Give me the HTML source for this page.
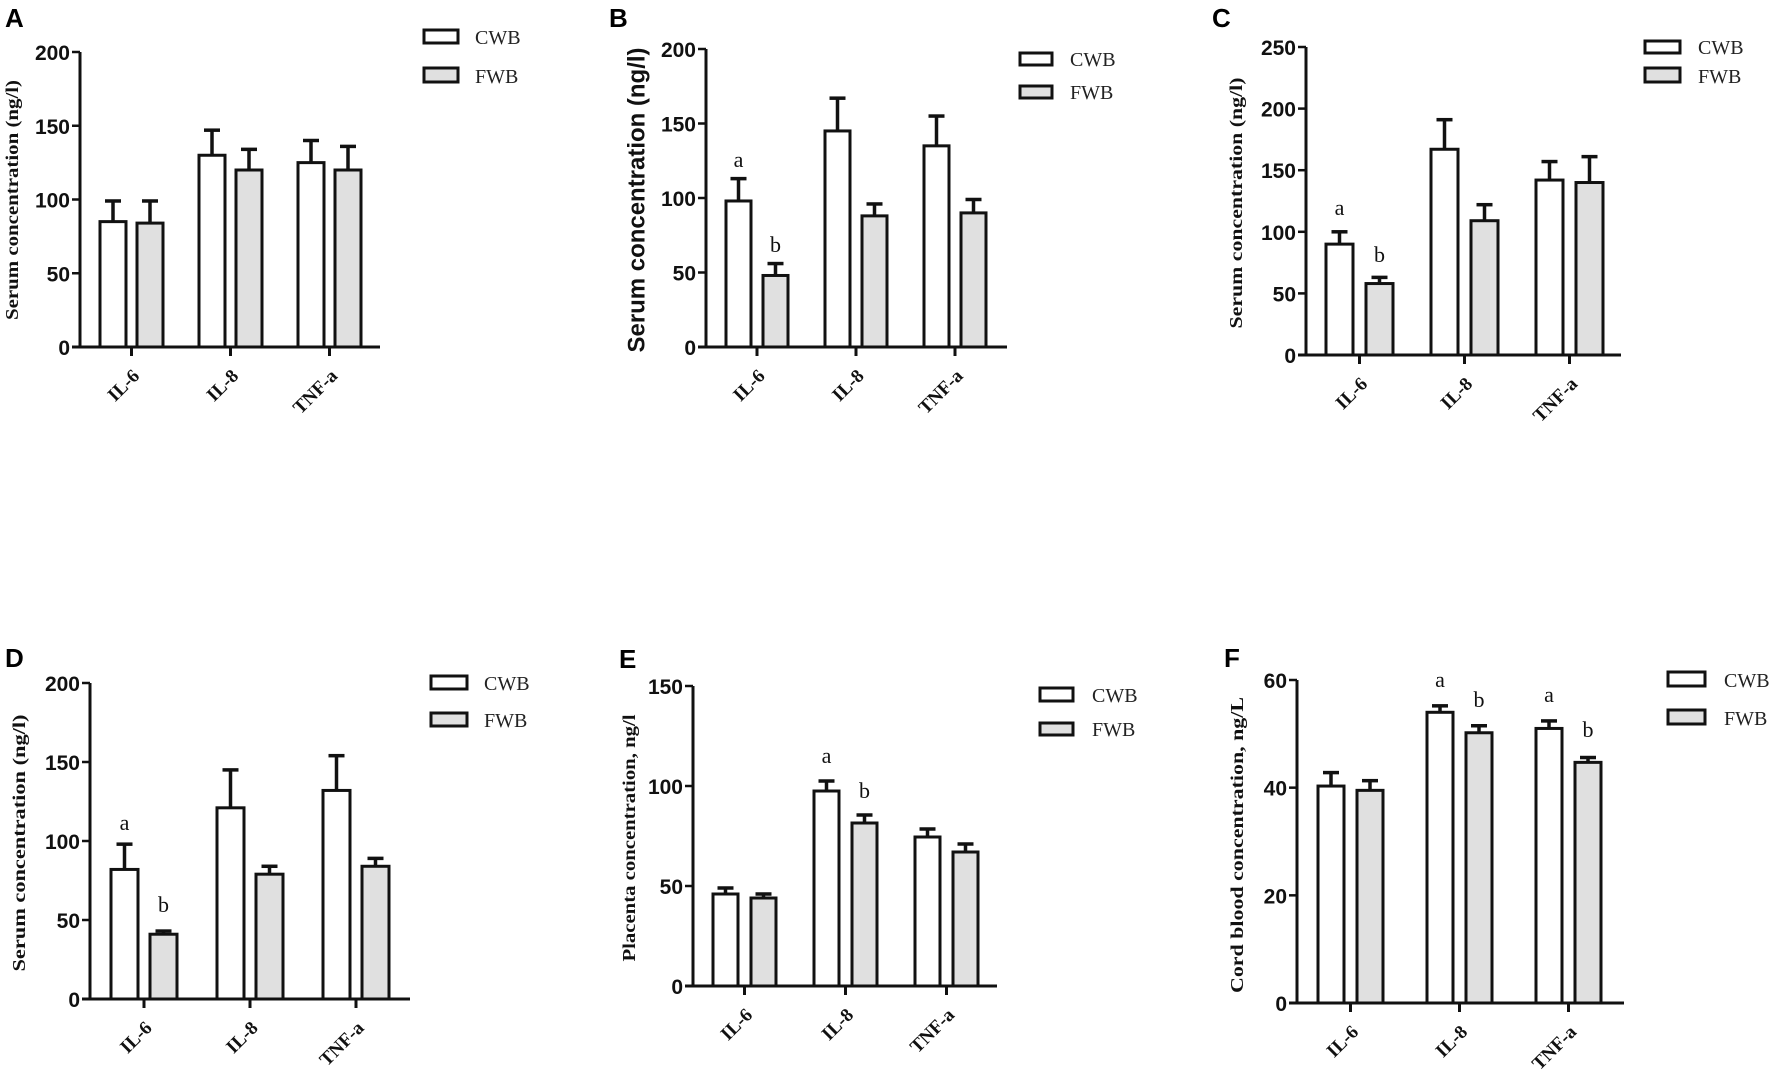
<!DOCTYPE html>
<html><head><meta charset="utf-8">
<style>
html,body{margin:0;padding:0;background:#fff;}
svg{display:block;}
.tk{font-family:"Liberation Sans",Arial,sans-serif;font-weight:bold;font-size:21px;fill:#111;}
.lg{font-family:"Liberation Serif","Times New Roman",serif;font-size:20px;fill:#222;}
.xl{font-family:"Liberation Serif","Times New Roman",serif;font-weight:bold;font-size:19px;fill:#111;}
.yl{font-family:"Liberation Serif","Times New Roman",serif;font-weight:bold;font-size:18px;fill:#111;}
.ys{font-family:"Liberation Sans",Arial,sans-serif;font-weight:bold;font-size:24px;fill:#111;}
.pl{font-family:"Liberation Sans",Arial,sans-serif;font-weight:bold;font-size:26px;fill:#000;}
.sg{font-family:"Liberation Serif","Times New Roman",serif;font-size:22px;fill:#111;}
</style></head><body>
<svg id="s" xmlns="http://www.w3.org/2000/svg" width="1772" height="1080" viewBox="0 0 1772 1080"></svg>
<script>
const panels=[
{L:'A',lx:5,ly:27,ax:80,yt:52,y0:347,max:200,step:50,xend:380,b1:100,w:26,fo:37,sp:99,
 c:[[85,14],[130,17],[125,15]],f:[[84,15],[120,14],[120,16]],
 leg:[424,458,30,43,68,82,475],yl:'Serum concentration (ng/l)',ycx:12,ycy:200,ylen:240,ycls:'yl',sig:[]},
{L:'B',lx:609,ly:27,ax:706,yt:49,y0:347,max:200,step:50,xend:1007,b1:726,w:25,fo:37,sp:99,
 c:[[98,15],[145,22],[135,20]],f:[[48,8],[88,8],[90,9]],
 leg:[1020,1052,53,65,86,98,1070],yl:'Serum concentration (ng/l)',ycx:637,ycy:200,ylen:305,ycls:'ys',
 sig:[[0,0,'a',167],[0,1,'b',252]]},
{L:'C',lx:1212,ly:27,ax:1306,yt:47,y0:355,max:250,step:50,xend:1621,b1:1326,w:27,fo:40,sp:105,
 c:[[90,10],[167,24],[142,15]],f:[[58,5],[109,13],[140,21]],
 leg:[1645,1680,41,53,68,82,1698],yl:'Serum concentration (ng/l)',ycx:1236,ycy:203,ylen:251,ycls:'yl',
 sig:[[0,0,'a',215],[0,1,'b',262]]},
{L:'D',lx:5,ly:667,ax:90,yt:683,y0:999,max:200,step:50,xend:410,b1:111,w:27,fo:39,sp:106,
 c:[[82,16],[121,24],[132,22]],f:[[41,2],[79,5],[84,5]],
 leg:[431,467,676,689,713,726,484],yl:'Serum concentration (ng/l)',ycx:19,ycy:843,ylen:257,ycls:'yl',
 sig:[[0,0,'a',830],[0,1,'b',912]]},
{L:'E',lx:619,ly:668,ax:693,yt:686,y0:986,max:150,step:50,xend:997,b1:713,w:25,fo:38,sp:101,
 c:[[46,3],[97.5,5],[74.5,4]],f:[[44,2],[81.5,4],[67,4]],
 leg:[1040,1073,688,701,723,735,1092],yl:'Placenta concentration, ng/l',ycx:629,ycy:838,ylen:247,ycls:'yl',
 sig:[[1,0,'a',763],[1,1,'b',798]]},
{L:'F',lx:1224,ly:667,ax:1297,yt:680,y0:1003,max:60,step:20,xend:1624,b1:1318,w:26,fo:39,sp:109,
 c:[[40.3,2.5],[54,1.2],[51,1.4]],f:[[39.5,1.8],[50.2,1.3],[44.7,0.9]],
 leg:[1668,1705,672,686,710,724,1724],yl:'Cord blood concentration, ng/L',ycx:1237,ycy:845,ylen:296,ycls:'yl',
 sig:[[1,0,'a',687],[1,1,'b',707],[2,0,'a',702],[2,1,'b',737]]}
];
const cats=['IL-6','IL-8','TNF-a'];
let h='';
const K='#111';
for(const p of panels){
  const Y=v=>p.y0-(v/p.max)*(p.y0-p.yt);
  h+=`<text class="pl" x="${p.lx}" y="${p.ly}">${p.L}</text>`;
  h+=`<text class="${p.ycls}" transform="translate(${p.ycx},${p.ycy}) rotate(-90)" text-anchor="middle" dominant-baseline="central" textLength="${p.ylen}" lengthAdjust="spacingAndGlyphs">${p.yl}</text>`;
  for(let i=0;i<3;i++){
    const xs=[p.b1+i*p.sp,p.b1+i*p.sp+p.fo];
    const ds=[p.c[i],p.f[i]];
    for(let j=0;j<2;j++){
      const [v,e]=ds[j];const x=xs[j];const y=Y(v);const ye=Y(v+e);const cx=x+p.w/2;
      h+=`<rect x="${x}" y="${y}" width="${p.w}" height="${p.y0-y}" fill="${j?'#e0e0e0':'#fff'}" stroke="${K}" stroke-width="3"/>`;
      h+=`<line x1="${cx}" y1="${y}" x2="${cx}" y2="${ye}" stroke="${K}" stroke-width="3.5"/>`;
      h+=`<line x1="${cx-8}" y1="${ye}" x2="${cx+8}" y2="${ye}" stroke="${K}" stroke-width="3.5"/>`;
    }
  }
  h+=`<line x1="${p.ax}" y1="${p.yt}" x2="${p.ax}" y2="${p.y0}" stroke="${K}" stroke-width="3"/>`;
  h+=`<line x1="${p.ax-8}" y1="${p.y0}" x2="${p.xend}" y2="${p.y0}" stroke="${K}" stroke-width="3"/>`;
  for(let v=0;v<=p.max;v+=p.step){
    const y=Y(v);
    h+=`<line x1="${p.ax-8}" y1="${y}" x2="${p.ax}" y2="${y}" stroke="${K}" stroke-width="2.5"/>`;
    h+=`<text class="tk" x="${p.ax-10}" y="${y+8}" text-anchor="end">${v}</text>`;
  }
  for(let i=0;i<3;i++){
    const tx=p.b1+i*p.sp+(p.fo+p.w)/2;
    h+=`<line x1="${tx}" y1="${p.y0}" x2="${tx}" y2="${p.y0+9}" stroke="${K}" stroke-width="3"/>`;
    h+=`<text class="xl" transform="translate(${tx+9},${p.y0+30}) rotate(-45)" text-anchor="end">${cats[i]}</text>`;
  }
  for(const s of p.sig){
    const x=p.b1+s[0]*p.sp+(s[1]?p.fo:0)+p.w/2;
    h+=`<text class="sg" x="${x}" y="${s[3]}" text-anchor="middle">${s[2]}</text>`;
  }
  const l=p.leg;
  h+=`<rect x="${l[0]}" y="${l[2]}" width="${l[1]-l[0]}" height="${l[3]-l[2]}" fill="#fff" stroke="${K}" stroke-width="3"/>`;
  h+=`<rect x="${l[0]}" y="${l[4]}" width="${l[1]-l[0]}" height="${l[5]-l[4]}" fill="#e0e0e0" stroke="${K}" stroke-width="3"/>`;
  h+=`<text class="lg" x="${l[6]}" y="${l[3]+1}">CWB</text>`;
  h+=`<text class="lg" x="${l[6]}" y="${l[5]+1}">FWB</text>`;
}
document.getElementById('s').innerHTML=h;
</script>
</body></html>
